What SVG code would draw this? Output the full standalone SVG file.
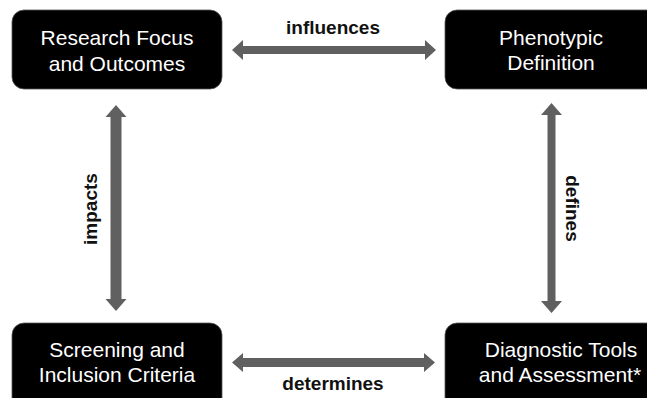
<svg xmlns="http://www.w3.org/2000/svg" width="647" height="398" viewBox="0 0 647 398">
<style>
.box{fill:#000;stroke:#555;stroke-width:0.8}
.bt{font-family:"Liberation Sans",Arial,sans-serif;font-size:21px;fill:#fff;text-anchor:middle}
.lbl{font-family:"Liberation Sans",Arial,sans-serif;font-size:19px;font-weight:bold;fill:#111;text-anchor:middle}
.arr{fill:#606060}
</style>
<rect width="647" height="398" fill="#fff"/>
<g id="connectors">
<path class="arr" d="M232,50 L243,40 L243,46 L425,46 L425,40 L436,50 L425,60 L425,54 L243,54 L243,60 Z"/>
<path class="arr" d="M232,362.5 L243,353 L243,358 L424,358 L424,353 L435,362.5 L424,372 L424,367 L243,367 L243,372 Z"/>
<path class="arr" d="M116,105 L126.5,117 L121.5,117 L121.5,299 L126.5,299 L116,311 L105.5,299 L110.5,299 L110.5,117 L105.5,117 Z"/>
<path class="arr" d="M551.5,103 L562,115 L555.5,115 L555.5,301 L562,301 L551.5,313 L541,301 L547.5,301 L547.5,115 L541,115 Z"/>
<text class="lbl" x="333" y="34">influences</text>
<text class="lbl" x="333" y="390">determines</text>
<text class="lbl" transform="translate(97,209) rotate(-90)">impacts</text>
<text class="lbl" transform="translate(566,208.5) rotate(90)">defines</text>
</g>
<g id="research">
<rect class="box" x="12" y="10" width="210" height="79" rx="12"/>
<text class="bt" x="117" y="45">Research Focus</text>
<text class="bt" x="117" y="71">and Outcomes</text>
</g>
<g id="phenotypic">
<rect class="box" x="445" y="10" width="225" height="79" rx="12"/>
<text class="bt" x="551" y="45">Phenotypic</text>
<text class="bt" x="551" y="70">Definition</text>
</g>
<g id="screening">
<rect class="box" x="12" y="323" width="210" height="90" rx="12"/>
<text class="bt" x="117" y="357">Screening and</text>
<text class="bt" x="117" y="382">Inclusion Criteria</text>
</g>
<g id="diagnostic">
<rect class="box" x="445" y="323" width="225" height="90" rx="12"/>
<text class="bt" x="561" y="357">Diagnostic Tools</text>
<text class="bt" x="560" y="382">and Assessment*</text>
</g>
</svg>
